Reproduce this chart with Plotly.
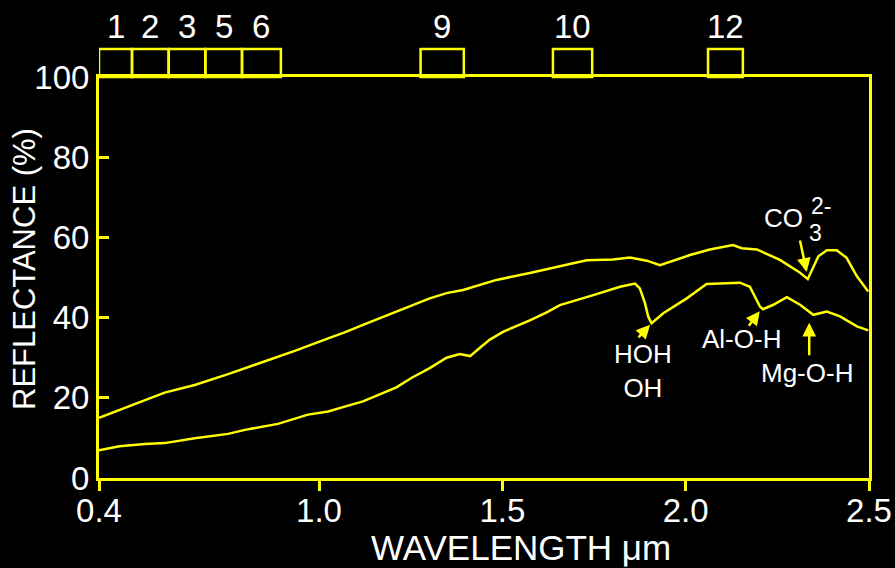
import plotly.graph_objects as go

# ---------------- data ----------------
upper_wl = [0.40, 0.456, 0.525, 0.579, 0.661, 0.752, 0.843, 0.934, 1.025, 1.070, 1.120, 1.211,
            1.302, 1.348, 1.393, 1.484, 1.575, 1.666, 1.730, 1.802, 1.848, 1.894, 1.930, 2.012,
            2.066, 2.129, 2.153, 2.194, 2.257, 2.312, 2.333, 2.362, 2.385, 2.412, 2.439,
            2.467, 2.498]
upper_refl = [15.0, 17.0, 19.3, 21.3, 23.2, 25.9, 28.8, 31.7, 34.8, 36.3, 38.2, 41.5,
              44.8, 46.1, 46.9, 49.4, 51.1, 53.0, 54.3, 54.5, 55.0, 54.2, 53.1, 55.6,
              57.0, 58.1, 57.3, 57.0, 54.4, 51.2, 49.6, 55.3, 56.8, 56.8, 54.9,
              50.3, 46.5]

lower_wl = [0.40, 0.456, 0.525, 0.579, 0.661, 0.752, 0.798, 0.888, 0.970, 1.025, 1.070, 1.120,
            1.211, 1.253, 1.302, 1.348, 1.384, 1.412, 1.439, 1.466, 1.503, 1.575, 1.621, 1.657,
            1.748, 1.821, 1.862, 1.875, 1.889, 1.898, 1.907, 1.939, 2.003, 2.057, 2.148, 2.175,
            2.203, 2.211, 2.239, 2.276, 2.312, 2.348, 2.385, 2.421, 2.467, 2.498]
lower_refl = [6.9, 7.9, 8.5, 8.7, 9.9, 11.0, 12.0, 13.5, 15.8, 16.6, 17.8, 19.1,
              22.6, 25.0, 27.4, 30.0, 30.9, 30.4, 32.5, 34.5, 36.5, 39.3, 41.3, 43.1,
              45.6, 47.7, 48.5, 47.3, 43.6, 40.2, 38.6, 41.1, 44.8, 48.4, 48.7, 47.7,
              42.7, 42.1, 43.2, 45.1, 43.2, 40.7, 41.5, 40.3, 37.8, 36.8]

band_labels = ["1", "2", "3", "5", "6", "9", "10", "12"]
band_start = [0.40, 0.49, 0.59, 0.69, 0.79, 1.277, 1.638, 2.061]
band_end = [0.49, 0.59, 0.69, 0.79, 0.896, 1.395, 1.745, 2.156]

x_ticks = [0.4, 1.0, 1.5, 2.0, 2.5]
x_ticktext = ["0.4", "1.0", "1.5", "2.0", "2.5"]
y_ticks = [0, 20, 40, 60, 80, 100]

x_title = "WAVELENGTH μm"
y_title = "REFLECTANCE (%)"

YEL = "#FFFF00"
WHITE = "#FFFFFF"
FONT = "Liberation Sans, Arial, sans-serif"

fig = go.Figure()
fig.add_trace(go.Scatter(x=upper_wl, y=upper_refl, mode="lines",
                         line=dict(color=YEL, width=2.5), showlegend=False))
fig.add_trace(go.Scatter(x=lower_wl, y=lower_refl, mode="lines",
                         line=dict(color=YEL, width=2.5), showlegend=False))

# plot area geometry (pixels)
W, H = 895, 568
left_m, right_m, top_m, bot_m = 99, 26, 77, 90
plot_w = W - left_m - right_m
plot_h = H - top_m - bot_m
box_h = 28 / plot_h

shapes = []
annotations = []
for lab, x0, x1 in zip(band_labels, band_start, band_end):
    shapes.append(dict(type="rect", xref="x", yref="paper", x0=x0, x1=x1,
                       y0=1.0, y1=1.0 + box_h, line=dict(color=YEL, width=2.5)))
    annotations.append(dict(x=(x0 + x1) / 2, y=1.0 + (top_m - 26) / plot_h, xref="x", yref="paper",
                            text=lab, showarrow=False, yanchor="middle",
                            font=dict(color=WHITE, size=33, family=FONT)))

# feature arrows
arrows = [
    (1.903, 38.2, -13, 14),
    (2.202, 41.6, -12, 16),
    (2.337, 38.7, 0, 34),
    (2.330, 51.4, -7, -33),
]
for x, y, ax, ay in arrows:
    annotations.append(dict(x=x, y=y, xref="x", yref="y", ax=ax, ay=ay, text="",
                            showarrow=True, arrowhead=2, arrowsize=1.1, arrowwidth=2.5,
                            arrowcolor=YEL))

labels = [
    ("HOH<br>OH", 1.884, 26.6, 26),
    ("Al-O-H", 2.153, 34.6, 26),
    ("Mg-O-H", 2.330, 26.3, 26),
    ("CO", 2.268, 64.8, 26),
    ("2-", 2.368, 67.8, 23),
    ("3", 2.355, 61.1, 23),
]
for t, x, y, s in labels:
    annotations.append(dict(x=x, y=y, xref="x", yref="y", text=t, showarrow=False,
                            font=dict(color=WHITE, size=s, family=FONT)))

# axis titles (offset as in the original figure)
annotations.append(dict(x=(521 - left_m) / plot_w, y=(H - bot_m - 547) / plot_h,
                        xref="paper", yref="paper", text=x_title, showarrow=False,
                        xanchor="center", yanchor="middle",
                        font=dict(color=WHITE, size=35, family=FONT)))
annotations.append(dict(x=(24 - left_m) / plot_w, y=(H - bot_m - 269) / plot_h,
                        xref="paper", yref="paper", text=y_title, showarrow=False,
                        textangle=-90, xanchor="center", yanchor="middle",
                        font=dict(color=WHITE, size=31, family=FONT)))

fig.update_layout(
    width=W, height=H,
    margin=dict(l=left_m, r=right_m, t=top_m, b=bot_m),
    paper_bgcolor="black", plot_bgcolor="black",
    font=dict(family=FONT, color=WHITE, size=30),
    shapes=shapes, annotations=annotations,
    xaxis=dict(range=[0.4, 2.5], tickvals=x_ticks, ticktext=x_ticktext, automargin=False,
               showgrid=False, zeroline=False, showline=True, mirror=True,
               linecolor=YEL, linewidth=3, ticks="outside", ticklen=10, tickwidth=3,
               tickcolor=YEL, tickfont=dict(size=33, color=WHITE), ticklabelstandoff=-9),
    yaxis=dict(range=[0, 100], tickvals=y_ticks, automargin=False,
               showgrid=False, zeroline=False, showline=True, mirror=True,
               linecolor=YEL, linewidth=3, ticks="inside", ticklen=10, tickwidth=3,
               tickcolor=YEL, tickfont=dict(size=33, color=WHITE)),
)

fig.write_html("out.html")
